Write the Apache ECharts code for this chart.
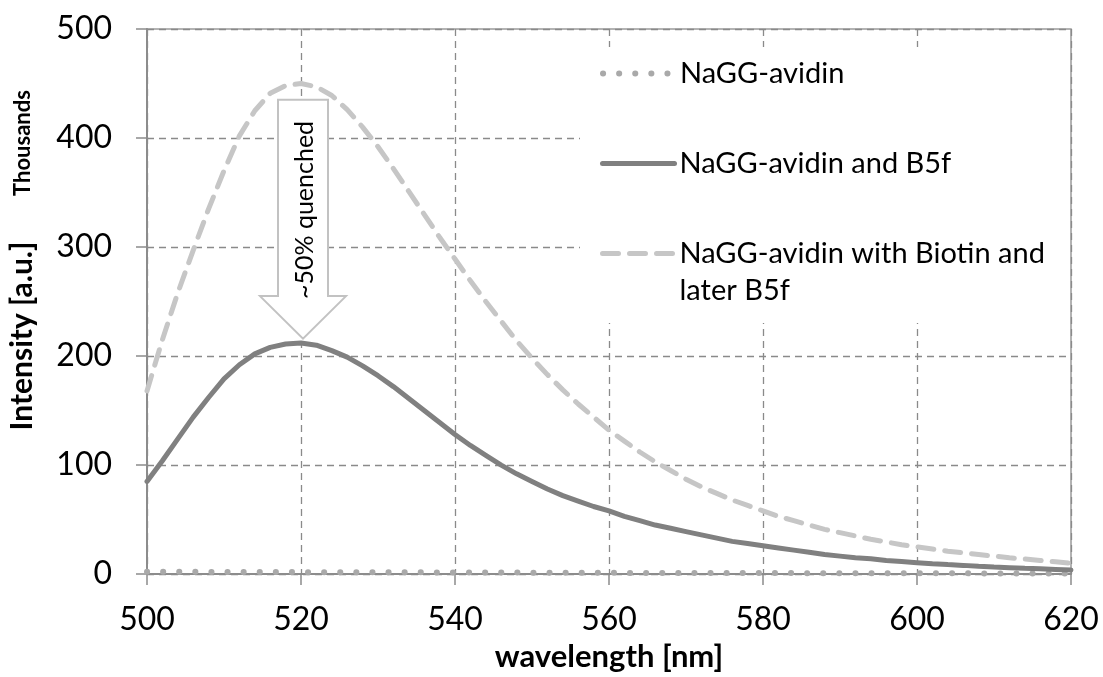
<!DOCTYPE html>
<html>
<head>
<meta charset="utf-8">
<script src="https://cdn.jsdelivr.net/npm/echarts@6/dist/echarts.min.js"></script>
<style>
html,body{margin:0;padding:0;background:#fff;}
#chart{width:1103px;height:677px;}
</style>
</head>
<body>
<div id="chart"></div>
<script>
// ---- data ----
const wavelengths = [500,502,504,506,508,510,512,514,516,518,520,522,524,526,528,530,532,534,536,538,540,542,544,546,548,550,552,554,556,558,560,562,564,566,568,570,572,574,576,578,580,582,584,586,588,590,592,594,596,598,600,602,604,606,608,610,612,614,616,618,620];
const seriesNames = ['NaGG-avidin', 'NaGG-avidin and B5f', 'NaGG-avidin with Biotin and later B5f'];
const avidinOnly = [2.2,2.2,2.1,2.1,2.0,2.0,2.0,1.9,1.9,1.9,1.8,1.8,1.8,1.7,1.7,1.7,1.6,1.6,1.6,1.5,1.5,1.5,1.4,1.4,1.4,1.3,1.3,1.3,1.2,1.2,1.2,1.1,1.1,1.1,1.1,1.0,1.0,1.0,1.0,0.9,0.9,0.9,0.9,0.8,0.8,0.8,0.8,0.8,0.7,0.7,0.7,0.7,0.7,0.7,0.6,0.6,0.6,0.6,0.6,0.6,0.6];
const avidinB5f = [85,104,124,144,162,179,192,202,208,211,212,210,205,199,191,182,172,161,150,139,128,118,109,100,92,85,78,72,67,62,58,53,49,45,42,39,36,33,30,28,26,24,22,20,18,16.5,15,14,12.5,11.5,10.5,9.5,8.7,8,7.2,6.5,5.9,5.3,4.8,4.3,3.8];
const avidinBiotinB5f = [168,215,258,297,335,370,402,425,441,448,450,447,439,426,410,392,372,351,330,309,289,269,250,232,214,198,183,169,156,144,132,122,112,103,95,87,80,74,68,63,58,53,49,45,41,38,35,32,29.5,27,25,23,21,19.5,18,16.5,15,13.8,12.5,11.3,10];
const xTicks = {min: 500, max: 620, interval: 20};
const yTicks = {min: 0, max: 500, interval: 100};
const annotationText = '~50% quenched';
// arrow annotation anchor (data coords): x, shaft top, head base, tip
const arrowAt = {x: 520, top: 435, headBase: 255, tip: 216};

function pairs(xs, ys){ return xs.map((x,i)=>[x, ys[i]]); }

const chart = echarts.init(document.getElementById('chart'));
const FONT = 'Lato, "Open Sans", sans-serif';
const gridColor = '#8a8a8a';
const axisColor = '#8c8c8c';

const styles = [
  {color: '#a9a9a9', width: 6, type: [0.1, 16], cap: 'round'},
  {color: '#808080', width: 5, type: 'solid', cap: 'round'},
  {color: '#c6c6c6', width: 5, type: [16, 11], cap: 'round'}
];

function legendFor(i, top, fmt){
  return {
    show: true, orient: 'vertical', left: 600, top: top, padding: 0,
    itemWidth: 72, itemHeight: 14, data: [seriesNames[i]],
    selectedMode: false,
    itemStyle: {color: 'rgba(0,0,0,0)', borderWidth: 0, opacity: 0},
    lineStyle: {color: styles[i].color, width: styles[i].width, type: styles[i].type, cap: styles[i].cap, opacity: 1},
    textStyle: {fontFamily: FONT, fontSize: 29, color: '#000', lineHeight: 37},
    formatter: fmt || (n => n)
  };
}

chart.setOption({
  animation: false,
  backgroundColor: '#fff',
  grid: {left: 147, right: 32, top: 29, bottom: 101, show: true, borderColor: '#9a9a9a', borderWidth: 1.5, backgroundColor: 'transparent'},
  xAxis: {
    type: 'value', min: xTicks.min, max: xTicks.max, interval: xTicks.interval,
    name: 'wavelength [nm]', nameLocation: 'middle', nameGap: 62,
    nameTextStyle: {fontFamily: FONT, fontSize: 31, fontWeight: 'bold', color: '#000'},
    axisLine: {show: true, lineStyle: {color: axisColor, width: 2}},
    axisTick: {show: true, length: 11, lineStyle: {color: axisColor, width: 1.5}},
    axisLabel: {fontFamily: FONT, fontSize: 32, color: '#000', margin: 30},
    splitLine: {show: true, lineStyle: {color: gridColor, width: 1.3, type: [7, 5]}}
  },
  yAxis: {
    type: 'value', min: yTicks.min, max: yTicks.max, interval: yTicks.interval,
    axisLine: {show: true, lineStyle: {color: axisColor, width: 2}},
    axisTick: {show: true, length: 11, lineStyle: {color: axisColor, width: 1.5}},
    axisLabel: {fontFamily: FONT, fontSize: 32, color: '#000', margin: 35},
    splitLine: {show: true, lineStyle: {color: gridColor, width: 1.3, type: [7, 5]}}
  },
  legend: [
    legendFor(0, 55),
    legendFor(1, 145),
    legendFor(2, 198, n => '\n' + n.replace(' later', '\nlater'))
  ],
  series: [
    {name: seriesNames[0], type: 'line', data: pairs(wavelengths, avidinOnly), symbol: 'none', z: 3,
     lineStyle: styles[0], itemStyle: {color: styles[0].color}},
    {name: seriesNames[1], type: 'line', data: pairs(wavelengths, avidinB5f), symbol: 'none', z: 4,
     lineStyle: styles[1], itemStyle: {color: styles[1].color}},
    {name: seriesNames[2], type: 'line', data: pairs(wavelengths, avidinBiotinB5f), symbol: 'none', z: 3,
     lineStyle: styles[2], itemStyle: {color: styles[2].color}}
  ]
});

// annotation graphics positioned from data coordinates
const pTop = chart.convertToPixel({gridIndex: 0}, [arrowAt.x, arrowAt.top]);
const pBase = chart.convertToPixel({gridIndex: 0}, [arrowAt.x, arrowAt.headBase]);
const pTip = chart.convertToPixel({gridIndex: 0}, [arrowAt.x, arrowAt.tip]);
const cx = pTop[0] + 2, sw = 25, hw = 43;
chart.setOption({
  graphic: [
    {type: 'rect', z: 3, shape: {x: 580, y: 47, width: 488, height: 276}, style: {fill: '#fff'}},
    {type: 'polygon', z: 5, shape: {points: [
      [cx - sw, pTop[1]], [cx + sw, pTop[1]], [cx + sw, pBase[1]], [cx + hw, pBase[1]],
      [cx, pTip[1]], [cx - hw, pBase[1]], [cx - sw, pBase[1]]]},
     style: {fill: '#fff', stroke: '#c2c2c2', lineWidth: 2}},
    {type: 'text', z: 6, x: cx + 2, y: (pTop[1] + pBase[1]) / 2 + 12, rotation: Math.PI / 2,
     style: {text: annotationText, fontFamily: FONT, fontSize: 25, fill: '#000', align: 'center', verticalAlign: 'middle'}},
    {type: 'text', z: 6, x: 22, y: 336, rotation: Math.PI / 2,
     style: {text: 'Intensity [a.u.]', fontFamily: FONT, fontSize: 30, fontWeight: 'bold', fill: '#000', align: 'center', verticalAlign: 'middle'}},
    {type: 'text', z: 6, x: 23, y: 143, rotation: Math.PI / 2,
     style: {text: 'Thousands', fontFamily: FONT, fontSize: 22, fontWeight: 'bold', fill: '#000', align: 'center', verticalAlign: 'middle'}}
  ]
});
</script>
</body>
</html>
